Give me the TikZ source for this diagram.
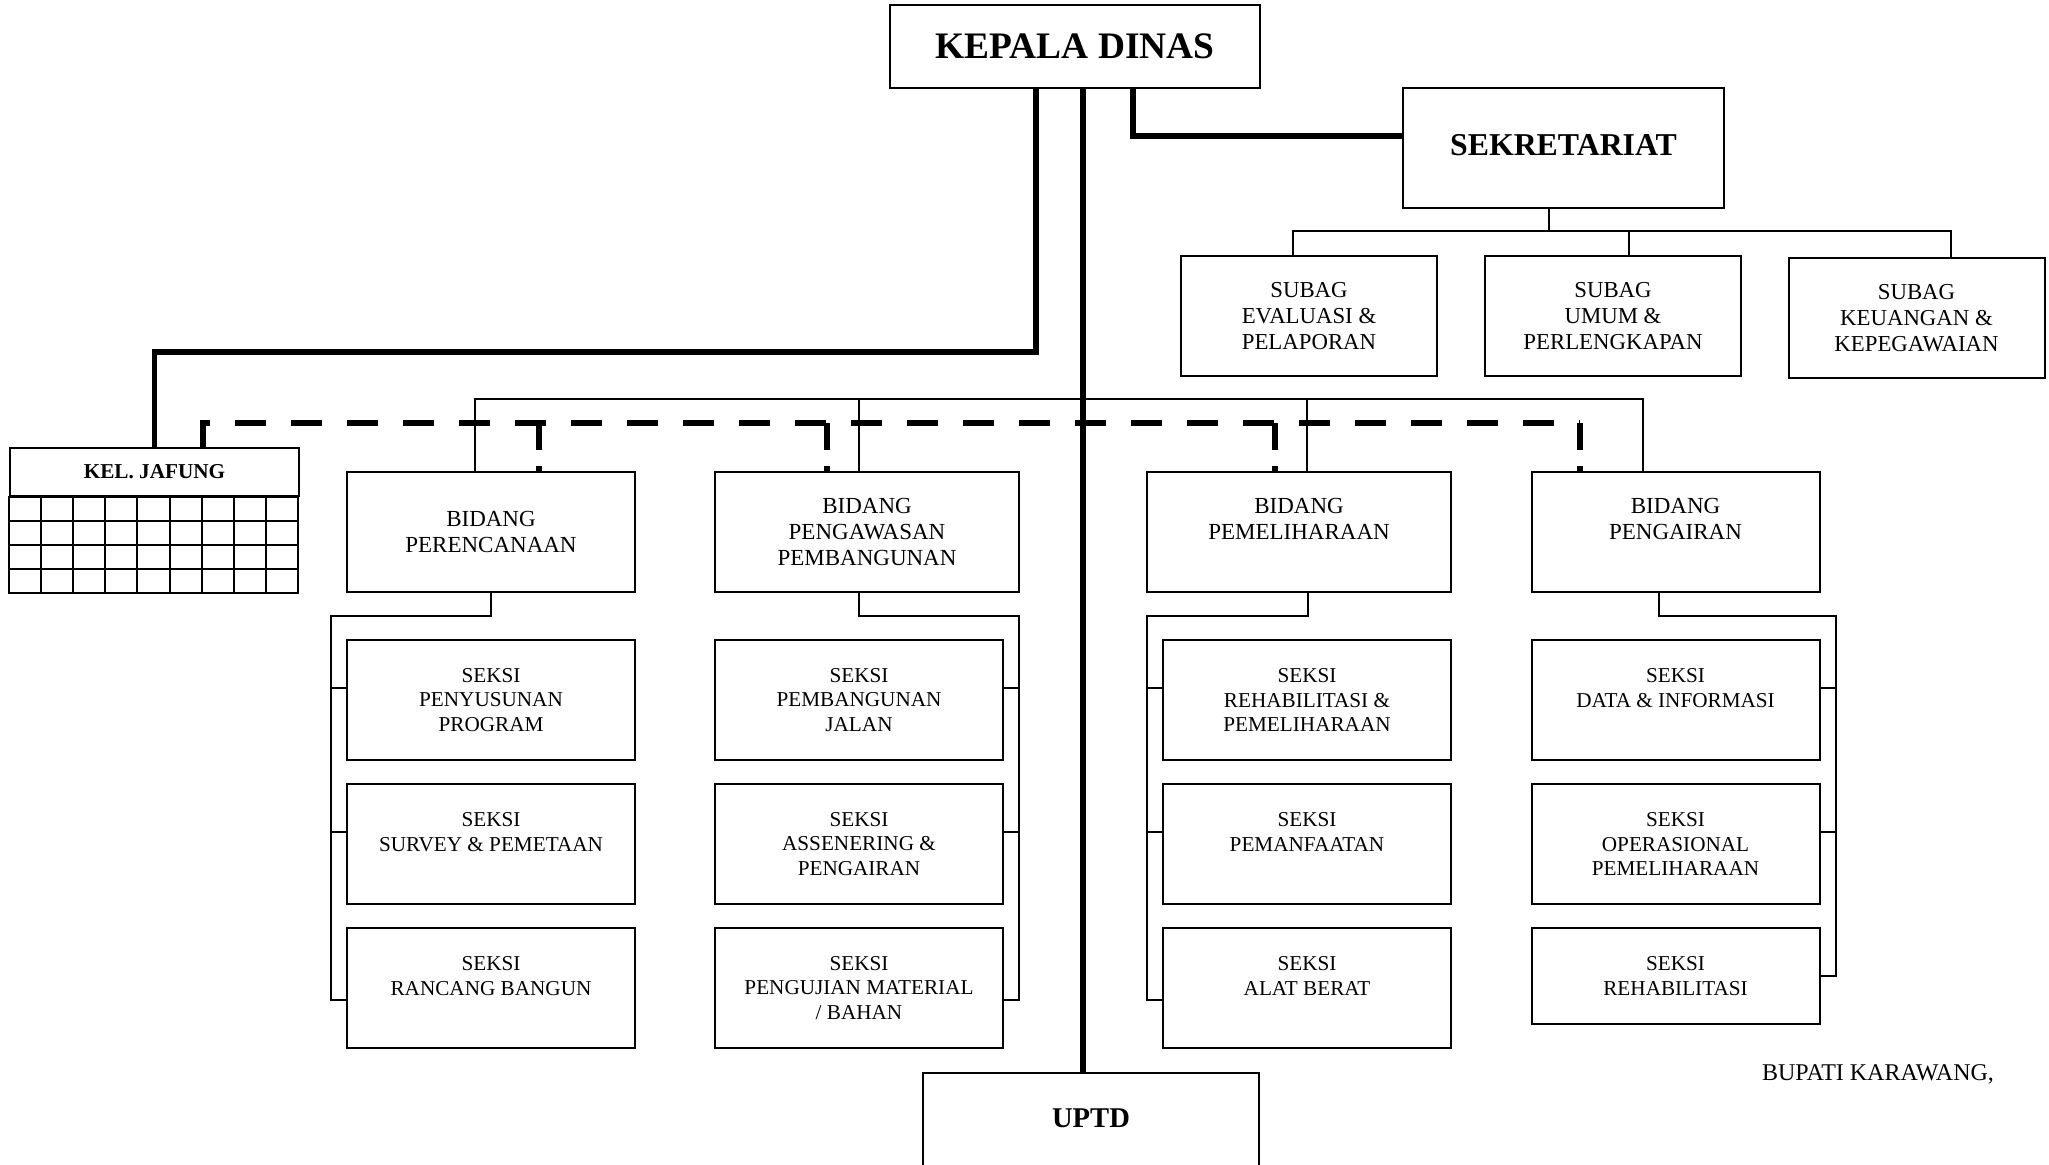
\documentclass[tikz,border=0pt]{standalone}
\usepackage{fontspec}
\setmainfont{Liberation Serif}

\tikzset{
	boxline/.style={draw, line width=1pt},
	orgbox/.style={boxline, inner sep=0pt, align=center},
	kadisbox/.style={orgbox, minimum width=185pt, minimum height=41.5pt, font=\fontsize{18.7}{22}\selectfont\bfseries},
	sekbox/.style={orgbox, minimum width=160.5pt, minimum height=60pt, text depth=3pt, font=\fontsize{15.9}{19}\selectfont\bfseries},
	subagbox/.style={orgbox, minimum width=128pt, minimum height=60pt, font=\fontsize{11.4}{13}\selectfont},
	bidangbox/.style={orgbox, minimum width=144pt, minimum height=60pt, font=\fontsize{11.5}{12.85}\selectfont},
	seksibox/.style={orgbox, minimum width=144pt, minimum height=60pt, font=\fontsize{10.6}{12.2}\selectfont},
	jafungbox/.style={orgbox, minimum width=144.5pt, minimum height=24pt, font=\fontsize{10.6}{12}\selectfont\bfseries},
	uptdbox/.style={orgbox, minimum width=168pt, text height=27pt, text depth=33pt, font=\fontsize{14.3}{17}\selectfont\bfseries},
	thickline/.style={line width=2.6pt},
	dashline/.style={line width=2.7pt, dash pattern=on 15.5pt off 12.5pt},
	dropline/.style={line width=2.7pt, dash pattern=on 13.5pt off 8pt on 10pt off 1pt},
	conn/.style={line width=0.8pt}
}

\begin{document}
\begin{tikzpicture}[x=0.5pt, y=-0.5pt]
	\useasboundingbox (0, 0) rectangle (2049, 1165) ;

	\node[kadisbox] (kadis) at (1075, 46.5) {KEPALA DINAS} ;
	\node[sekbox] (sekre) at (1563.5, 148) {SEKRETARIAT} ;
	\node[subagbox] (subag1) at (1309, 316) {SUBAG\\EVALUASI \&\\PELAPORAN} ;
	\node[subagbox] (subag2) at (1613, 316) {SUBAG\\UMUM \&\\PERLENGKAPAN} ;
	\node[subagbox] (subag3) at (1916.5, 318) {SUBAG\\KEUANGAN \&\\KEPEGAWAIAN} ;

	\node[jafungbox] (jafung) at (154.5, 472) {KEL. JAFUNG} ;
	\draw[boxline] (jafung.south west) rectangle ++(289, 96) ;
	\foreach \i in {1,...,8}
		\draw[boxline] ([xshift=\i*16.056pt]jafung.south west) -- ++(0, 96) ;
	\foreach \j in {1,2,3}
		\draw[boxline] ([yshift=-\j*12pt]jafung.south west) -- ++(289, 0) ;

	\node[bidangbox] (bid1) at (491, 532) {BIDANG\\PERENCANAAN} ;
	\node[bidangbox, minimum width=152pt] (bid2) at (867, 532) {BIDANG\\PENGAWASAN\\PEMBANGUNAN} ;
	\node[bidangbox, minimum width=152pt] (bid3) at (1299, 532) {BIDANG\\PEMELIHARAAN\\~} ;
	\node[bidangbox] (bid4) at (1675.5, 532) {BIDANG\\PENGAIRAN\\~} ;

	\node[seksibox] (s11) at (491, 700) {SEKSI\\PENYUSUNAN\\PROGRAM} ;
	\node[seksibox] (s12) at (491, 844) {SEKSI\\SURVEY \& PEMETAAN\\~} ;
	\node[seksibox] (s13) at (491, 988) {SEKSI\\RANCANG BANGUN\\~} ;
	\node[seksibox] (s21) at (859, 700) {SEKSI\\PEMBANGUNAN\\JALAN} ;
	\node[seksibox] (s22) at (859, 844) {SEKSI\\ASSENERING \&\\PENGAIRAN} ;
	\node[seksibox] (s23) at (859, 988) {SEKSI\\PENGUJIAN MATERIAL\\/ BAHAN} ;
	\node[seksibox] (s31) at (1307, 700) {SEKSI\\REHABILITASI \&\\PEMELIHARAAN} ;
	\node[seksibox] (s32) at (1307, 844) {SEKSI\\PEMANFAATAN\\~} ;
	\node[seksibox] (s33) at (1307, 988) {SEKSI\\ALAT BERAT\\~} ;
	\node[seksibox] (s41) at (1675.5, 700) {SEKSI\\DATA \& INFORMASI\\~} ;
	\node[seksibox] (s42) at (1675.5, 844) {SEKSI\\OPERASIONAL\\PEMELIHARAAN} ;
	\node[seksibox, minimum height=48pt] (s43) at (1675.5, 976) {SEKSI\\REHABILITASI} ;

	\node[uptdbox, anchor=north] (uptd) at (1091, 1072) {UPTD} ;
	\node[anchor=base west, font=\fontsize{12}{14}\selectfont] (bupati) at (1755, 1080) {BUPATI KARAWANG,} ;

	\coordinate (kleft) at (1036, 352) ;
	\coordinate (kmid) at (1083, 399) ;
	\coordinate (kright) at (1133, 136) ;
	\draw[thickline] (kleft |- kadis.south) -- (kleft) -| (jafung.north) ;
	\draw[thickline] (kmid |- kadis.south) -- (kmid |- uptd.north) ;
	\draw[thickline] (kright |- kadis.south) -- (kright) -- (kright -| sekre.west) ;

	\coordinate (sbus) at (1549, 231) ;
	\coordinate (sa) at (1293, 231) ;
	\coordinate (sb) at (1629, 231) ;
	\coordinate (sc) at (1951, 231) ;
	\draw[conn] (sbus |- sekre.south) -- (sbus) ;
	\draw[conn] (sa |- subag1.north) -- (sa) -- (sc) -- (sc |- subag3.north) ;
	\draw[conn] (sb) -- (sb |- subag2.north) ;

	\coordinate (ta) at (475, 399) ;
	\coordinate (tb) at (859, 399) ;
	\coordinate (tc) at (1307, 399) ;
	\coordinate (td) at (1643, 399) ;
	\draw[conn] (ta |- bid1.north) -- (ta) -- (td) -- (td |- bid4.north) ;
	\draw[conn] (tb) -- (tb |- bid2.north) ;
	\draw[conn] (tc) -- (tc |- bid3.north) ;

	\coordinate (da) at (203, 423) ;
	\coordinate (db) at (539, 423) ;
	\coordinate (dc) at (827, 423) ;
	\coordinate (dd) at (1275, 423) ;
	\coordinate (de) at (1580, 423) ;
	\draw[dashline] (da |- jafung.north) -- (da) -- (de) ;
	\draw[dropline] (de) -- (de |- bid4.north) ;
	\draw[dropline] (db) -- (db |- bid1.north) ;
	\draw[dropline] (dc) -- (dc |- bid2.north) ;
	\draw[dropline] (dd) -- (dd |- bid3.north) ;

	\coordinate (ya) at (0, 688) ;
	\coordinate (yb) at (0, 832) ;
	\coordinate (yc) at (0, 1000) ;
	\coordinate (yd) at (0, 976) ;

	\coordinate (ua) at (491, 616) ;
	\coordinate (ba) at (331, 616) ;
	\draw[conn] (ua |- bid1.south) -- (ua) -- (ba) -- (ba |- yc) -- (s13.west |- yc) ;
	\draw[conn] (ba |- ya) -- (s11.west |- ya) ;
	\draw[conn] (ba |- yb) -- (s12.west |- yb) ;

	\coordinate (ub) at (859, 616) ;
	\coordinate (bb) at (1019, 616) ;
	\draw[conn] (ub |- bid2.south) -- (ub) -- (bb) -- (bb |- yc) -- (s23.east |- yc) ;
	\draw[conn] (bb |- ya) -- (s21.east |- ya) ;
	\draw[conn] (bb |- yb) -- (s22.east |- yb) ;

	\coordinate (uc) at (1308, 616) ;
	\coordinate (bc) at (1147, 616) ;
	\draw[conn] (uc |- bid3.south) -- (uc) -- (bc) -- (bc |- yc) -- (s33.west |- yc) ;
	\draw[conn] (bc |- ya) -- (s31.west |- ya) ;
	\draw[conn] (bc |- yb) -- (s32.west |- yb) ;

	\coordinate (ud) at (1659, 616) ;
	\coordinate (bd) at (1836, 616) ;
	\draw[conn] (ud |- bid4.south) -- (ud) -- (bd) -- (bd |- yd) -- (s43.east |- yd) ;
	\draw[conn] (bd |- ya) -- (s41.east |- ya) ;
	\draw[conn] (bd |- yb) -- (s42.east |- yb) ;
\end{tikzpicture}
\end{document}
